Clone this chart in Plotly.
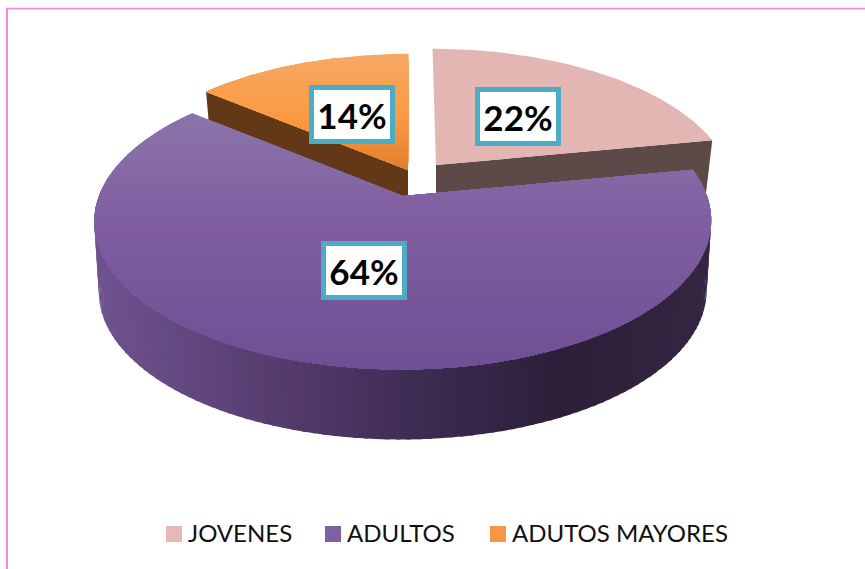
import numpy as np
import plotly.graph_objects as go

categories = ["JOVENES", "ADULTOS", "ADUTOS MAYORES"]
values = [22, 64, 14]
labels = ["22%", "64%", "14%"]

W, H = 865, 569
K = 0.17          # perspective strength
VX = 412          # vanishing x
DEPTH = 70        # pie thickness
apex = {"JOVENES": (436, 165), "ADULTOS": (403, 196), "ADUTOS MAYORES": (408, 170)}
radius = {"JOVENES": (291, 136), "ADULTOS": (304, 144), "ADUTOS MAYORES": (291, 136)}
bottom_scale = {"JOVENES": 0.97, "ADULTOS": 0.985, "ADUTOS MAYORES": 0.97}

top_ramp = {
    "JOVENES": [(0, "#e3b6b4"), (1, "#e3b6b4")],
    "ADULTOS": [(0, "#8c75ab"), (0.45, "#7f5da0"), (1, "#6f5094")],
    "ADUTOS MAYORES": [(0, "#f7a965"), (0.55, "#fb9a42"), (1, "#e0812e")],
}
swatch = {"JOVENES": "#e6b9b8", "ADULTOS": "#7f60a2", "ADUTOS MAYORES": "#f79646"}
cut_colour = {"JOVENES": "#5d4a48", "ADUTOS MAYORES": "#633816"}
wall_ramp = [(0, "#6f5490"), (0.3, "#553c6e"), (0.55, "#3c2a50"), (0.75, "#2d1f3a"), (1, "#352743")]
label_pos = {"JOVENES": (518, 116), "ADULTOS": (364, 270), "ADUTOS MAYORES": (352, 114)}
legend_pos = {"JOVENES": 174, "ADULTOS": 333, "ADUTOS MAYORES": 498}
LEGEND_Y = 534
LEGEND_TEXT_Y = 536
LEGEND_TEXT_DX = 14


def hex2rgb(c):
    return np.array([int(c[i:i + 2], 16) for i in (1, 3, 5)], float)


def ramp(stops, t):
    t = min(max(t, 0), 1)
    for (t0, c0), (t1, c1) in zip(stops, stops[1:]):
        if t <= t1:
            f = (t - t0) / (t1 - t0)
            r = hex2rgb(c0) * (1 - f) + hex2rgb(c1) * f
            return "rgb(%d,%d,%d)" % tuple(r)
    return stops[-1][1]


def project(name, theta, rad=1.0, bottom=False):
    ax, ay = apex[name]
    a, b = radius[name]
    u, v = np.sin(theta) * rad, -np.cos(theta) * rad
    s = 1 / (1 - K * v)
    if bottom:
        a = a * bottom_scale[name]
        ay = ay + DEPTH
    return VX + (ax - VX + a * u) * s, ay + b * v * s


def clip_below(xs, ys, t):
    """Part of a polygon with y >= t."""
    ox, oy = [], []
    n = len(xs)
    for i in range(n):
        x0, y0, x1, y1 = xs[i], ys[i], xs[(i + 1) % n], ys[(i + 1) % n]
        if y0 >= t:
            ox.append(x0); oy.append(y0)
        if (y0 >= t) != (y1 >= t):
            f = (t - y0) / (y1 - y0)
            ox.append(x0 + f * (x1 - x0)); oy.append(t)
    return ox, oy


def poly(fig, xs, ys, colour):
    fig.add_trace(go.Scatter(x=list(xs) + [xs[0]], y=list(ys) + [ys[0]], mode="lines",
                             fill="toself", fillcolor=colour, line=dict(width=0),
                             hoverinfo="skip", showlegend=False))


spans = {}
cum = 0.0
total = sum(values)
for c, v in zip(categories, values):
    spans[c] = (cum / total * 2 * np.pi, (cum + v) / total * 2 * np.pi)
    cum += v

fig = go.Figure()


def draw_cut(name, theta):
    x0, y0 = project(name, theta, 0)
    x1, y1 = project(name, theta, 1)
    x2, y2 = project(name, theta, 1, True)
    x3, y3 = project(name, theta, 0, True)
    poly(fig, [x0, x1, x2, x3], [y0, y1, y2, y3], cut_colour[name])


def draw_top(name):
    t0, t1 = spans[name]
    th = np.linspace(t0, t1, 160)
    ex, ey = project(name, th)
    ax, ay = project(name, 0.0, 0)
    xs = [ax] + list(ex)
    ys = [ay] + list(ey)
    lo, hi = min(ys), max(ys)
    stops = top_ramp[name]
    n = 1 if stops[0][1] == stops[-1][1] else 28
    for i in range(n):
        t = lo + (hi - lo) * i / n
        cx, cy = clip_below(xs, ys, t)
        if len(cx) > 2:
            poly(fig, cx, cy, ramp(stops, (i + 0.5) / n))


def draw_wall(name, from_t, to_t):
    th = np.linspace(from_t, to_t, 130)
    xmin, xmax = 94, 712
    for a, b in zip(th[:-1], th[1:]):
        b2 = min(b + 0.01, to_t)
        xa, ya = project(name, a)
        xb, yb = project(name, b2)
        xc, yc = project(name, b2, 1, True)
        xd, yd = project(name, a, 1, True)
        colour = ramp(wall_ramp, ((xa + xb) / 2 - xmin) / (xmax - xmin))
        poly(fig, [xa, xb, xc, xd], [ya, yb, yc, yd], colour)


# painted back to front
draw_cut("ADUTOS MAYORES", spans["ADUTOS MAYORES"][0])
draw_top("ADUTOS MAYORES")
draw_cut("JOVENES", spans["JOVENES"][1])
draw_top("JOVENES")
# the visible rim runs from the right side round the front to the left side
draw_wall("ADULTOS", np.pi * 0.5, spans["ADULTOS"][1])
draw_top("ADULTOS")

# legend row
for c in categories:
    fig.add_trace(go.Scatter(x=[legend_pos[c]], y=[LEGEND_Y], mode="markers", name=c,
                             marker=dict(symbol="square", size=16, color=swatch[c]),
                             showlegend=False, hoverinfo="skip"))
    fig.add_trace(go.Scatter(x=[legend_pos[c] + LEGEND_TEXT_DX], y=[LEGEND_TEXT_Y], mode="text", name=c,
                             text=[c], textposition="middle right",
                             textfont=dict(family="Lato", size=24, color="#111111"),
                             showlegend=False, hoverinfo="skip"))

annotations = [
    dict(x=label_pos[c][0], y=label_pos[c][1], xref="x", yref="y", text="<b>%s</b>" % t,
         showarrow=False, bgcolor="#ffffff", bordercolor="#4bacc6", borderwidth=5,
         borderpad=0, width=76, height=49, align="center", valign="middle",
         font=dict(family="Lato", size=35, color="#000000"))
    for c, t in zip(categories, labels)
]

frame = dict(color="#ff80e0")
shapes = [
    dict(type="line", x0=6, x1=W, y0=8.5, y1=8.5, xref="x", yref="y", line=dict(width=1.5, **frame)),
    dict(type="line", x0=7, x1=7, y0=8, y1=H, xref="x", yref="y", line=dict(width=2, **frame)),
]

fig.update_layout(
    width=W, height=H, autosize=False,
    margin=dict(l=0, r=0, t=0, b=0),
    paper_bgcolor="#ffffff", plot_bgcolor="#ffffff",
    xaxis=dict(range=[0, W], visible=False, fixedrange=True),
    yaxis=dict(range=[H, 0], visible=False, fixedrange=True),
    annotations=annotations, shapes=shapes, showlegend=False,
)
fig.write_html("out.html", config={"displayModeBar": False},
               post_script="document.body.style.margin='0';document.body.style.overflow='hidden';")
